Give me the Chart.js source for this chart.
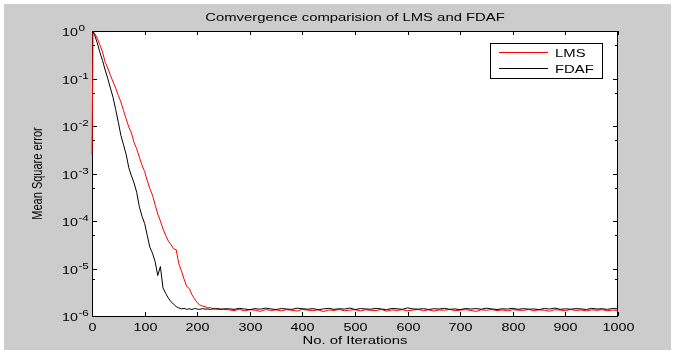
<!DOCTYPE html>
<html>
<head>
<meta charset="utf-8">
<script src="https://cdn.jsdelivr.net/npm/chart.js@4/dist/chart.umd.min.js"></script>
<style>
  body { margin: 0; background: #fff; }
  canvas { display: block; }
</style>
</head>
<body>
<canvas id="grafico" width="674" height="351"></canvas>
<script>
const $ = id => document.getElementById(id);

const iteracoes = [
    0, 2, 5, 10, 15, 20, 25, 30, 35, 40, 45, 50, 55, 60, 65, 70, 75, 80, 85, 90, 95,
    100, 105, 110, 115, 120, 125, 130, 135, 140, 145, 150, 155, 160, 165, 170, 175,
    180, 185, 190, 195, 200, 205, 210, 215, 220, 225, 230, 235, 240, 245, 250,
    260, 270, 280, 290, 300, 310, 320, 330, 340, 350, 360, 370, 380, 390, 400,
    410, 420, 430, 440, 450, 460, 470, 480, 490, 500, 510, 520, 530, 540, 550,
    560, 570, 580, 590, 600, 610, 620, 630, 640, 650, 660, 670, 680, 690, 700,
    710, 720, 730, 740, 750, 760, 770, 780, 790, 800, 810, 820, 830, 840, 850,
    860, 870, 880, 890, 900, 910, 920, 930, 940, 950, 960, 970, 980, 990, 1000
];

const mseLMS = [
    2.5e-3, 0.98, 0.89, 0.71, 0.51, 0.36, 0.22, 0.166, 0.117, 0.085, 0.063, 0.044, 0.032,
    0.021, 0.014, 9.5e-3, 7.1e-3, 4.5e-3, 3.3e-3, 2.2e-3, 1.5e-3,
    1.1e-3, 7.1e-4, 4.8e-4, 3.5e-4, 2.2e-4, 1.4e-4, 1.0e-4, 6.8e-5, 5.0e-5, 3.8e-5,
    3.2e-5, 2.6e-5, 2.5e-5, 1.26e-5, 8.9e-6, 6.0e-6, 4.2e-6, 3.8e-6, 2.8e-6, 2.3e-6,
    1.9e-6, 1.7e-6, 1.62e-6, 1.58e-6, 1.48e-6, 1.51e-6, 1.41e-6, 1.45e-6, 1.36e-6, 1.41e-6, 1.38e-6,
    1.35e-6, 1.30e-6, 1.38e-6, 1.28e-6, 1.36e-6, 1.33e-6, 1.25e-6, 1.37e-6, 1.31e-6, 1.34e-6,
    1.29e-6, 1.36e-6, 1.32e-6, 1.27e-6, 1.38e-6, 1.33e-6, 1.30e-6, 1.35e-6, 1.24e-6, 1.34e-6,
    1.31e-6, 1.37e-6, 1.29e-6, 1.33e-6, 1.36e-6, 1.28e-6, 1.35e-6, 1.32e-6, 1.30e-6, 1.38e-6,
    1.26e-6, 1.34e-6, 1.31e-6, 1.36e-6, 1.29e-6, 1.33e-6, 1.37e-6, 1.30e-6, 1.35e-6, 1.27e-6,
    1.34e-6, 1.32e-6, 1.38e-6, 1.29e-6, 1.33e-6, 1.36e-6, 1.31e-6, 1.25e-6, 1.35e-6, 1.32e-6,
    1.37e-6, 1.30e-6, 1.34e-6, 1.28e-6, 1.36e-6, 1.33e-6, 1.31e-6, 1.38e-6, 1.29e-6, 1.35e-6,
    1.32e-6, 1.26e-6, 1.36e-6, 1.33e-6, 1.30e-6, 1.37e-6, 1.31e-6, 1.34e-6, 1.28e-6, 1.35e-6,
    1.32e-6, 1.36e-6, 1.29e-6, 1.33e-6, 1.31e-6
];

const mseFDAF = [
    0.95, 0.97, 0.83, 0.56, 0.355, 0.24, 0.151, 0.10, 0.063, 0.040, 0.0224, 0.012, 6.3e-3,
    4.0e-3, 2.5e-3, 1.32e-3, 8.9e-4, 6.3e-4, 4.0e-4, 2.0e-4, 1.26e-4,
    8.9e-5, 5.0e-5, 2.8e-5, 2.1e-5, 1.4e-5, 7.1e-6, 1.1e-5, 3.9e-6, 3.0e-6, 2.4e-6,
    2.0e-6, 1.78e-6, 1.58e-6, 1.48e-6, 1.41e-6, 1.45e-6, 1.38e-6, 1.42e-6, 1.37e-6, 1.44e-6,
    1.40e-6, 1.38e-6, 1.43e-6, 1.39e-6, 1.41e-6, 1.37e-6, 1.42e-6, 1.40e-6, 1.44e-6, 1.38e-6, 1.41e-6,
    1.42e-6, 1.38e-6, 1.45e-6, 1.40e-6, 1.36e-6, 1.43e-6, 1.39e-6, 1.47e-6, 1.41e-6, 1.37e-6,
    1.44e-6, 1.40e-6, 1.38e-6, 1.46e-6, 1.42e-6, 1.39e-6, 1.43e-6, 1.36e-6, 1.41e-6, 1.45e-6,
    1.38e-6, 1.42e-6, 1.40e-6, 1.47e-6, 1.37e-6, 1.43e-6, 1.41e-6, 1.39e-6, 1.45e-6, 1.40e-6,
    1.36e-6, 1.44e-6, 1.42e-6, 1.38e-6, 1.48e-6, 1.41e-6, 1.39e-6, 1.43e-6, 1.37e-6, 1.42e-6,
    1.40e-6, 1.45e-6, 1.38e-6, 1.41e-6, 1.36e-6, 1.44e-6, 1.40e-6, 1.43e-6, 1.39e-6, 1.46e-6,
    1.41e-6, 1.37e-6, 1.42e-6, 1.40e-6, 1.45e-6, 1.38e-6, 1.43e-6, 1.39e-6, 1.41e-6, 1.36e-6,
    1.44e-6, 1.40e-6, 1.47e-6, 1.38e-6, 1.42e-6, 1.39e-6, 1.43e-6, 1.41e-6, 1.37e-6, 1.45e-6,
    1.40e-6, 1.42e-6, 1.38e-6, 1.44e-6, 1.41e-6
];

const titulo = "Comvergence comparision of LMS and FDAF";
const tituloX = "No. of Iterations";
const tituloY = "Mean Square error";
const legendas = ["LMS", "FDAF"];
const cores = ["#ff0000", "#000000"];

const FONTE = "'Liberation Sans', Arial, sans-serif";
const ESTICA = 1.35; // the original figure is stretched sideways

const pontos = valores => iteracoes.map((x, i) => ({ x, y: valores[i] }));

function texto(ctx, str, x, y, align, tamanho, sx) {
    ctx.save();
    ctx.font = `${tamanho}px ${FONTE}`;
    ctx.fillStyle = "#000";
    ctx.textBaseline = "alphabetic";
    ctx.translate(x, y);
    ctx.scale(sx, 1);
    ctx.textAlign = align;
    ctx.fillText(str, 0, 0);
    ctx.restore();
}

function linha(ctx, x1, y1, x2, y2) {
    ctx.beginPath();
    ctx.moveTo(x1, y1);
    ctx.lineTo(x2, y2);
    ctx.stroke();
}

const moldura = {
    id: "moldura",
    beforeDraw(chart) {
        const { ctx, chartArea: a, width, height } = chart;
        ctx.save();
        ctx.fillStyle = "#ffffff";
        ctx.fillRect(0, 0, width, height);
        ctx.fillStyle = "#cccccc";
        ctx.fillRect(4, 4, 667, 346);
        ctx.fillStyle = "#ffffff";
        ctx.fillRect(a.left, a.top, a.right - a.left, a.bottom - a.top);
        ctx.restore();
    },
    // axes under the data, like matlab's default layer
    beforeDatasetsDraw(chart) {
        const { ctx, chartArea: a, scales } = chart;
        const sx = scales.x, sy = scales.y;
        ctx.save();
        ctx.strokeStyle = "#000";
        ctx.lineWidth = 1;
        ctx.strokeRect(a.left + 0.5, a.top + 0.5, a.right - a.left - 1, a.bottom - a.top);

        sx.ticks.forEach(t => {
            const px = Math.round(sx.getPixelForValue(t.value)) + 0.5;
            linha(ctx, px, a.bottom, px, a.bottom - 4);
            linha(ctx, px, a.top, px, a.top + 4);
            texto(ctx, String(t.value), px, a.bottom + 15, "center", 11, 1.3);
        });

        sy.ticks.forEach(t => {
            const v = t.value;
            const e = Math.floor(Math.log10(v) + 1e-9);
            const m = v / Math.pow(10, e);
            if (Math.abs(m - Math.round(m)) > 1e-6) return;
            const maior = Math.round(m) === 1;
            const len = maior ? 5 : 3;
            const py = Math.round(sy.getPixelForValue(v)) + 0.5;
            linha(ctx, a.left, py, a.left + len, py);
            linha(ctx, a.right, py, a.right - len, py);
            if (maior) {
                ctx.font = `11px ${FONTE}`;
                const w = ctx.measureText("10").width * 1.3;
                texto(ctx, "10", 62, py + 4, "left", 11, 1.3);
                texto(ctx, String(e), 62 + w + 0.5, py - 1, "left", 9, 1.3);
            }
        });

        texto(ctx, titulo, (a.left + a.right) / 2, 21, "center", 11, ESTICA);
        texto(ctx, tituloX, (a.left + a.right) / 2, 344, "center", 11, ESTICA);

        ctx.save();
        ctx.translate(42, (a.top + a.bottom) / 2);
        ctx.scale(ESTICA, 1);
        ctx.rotate(-Math.PI / 2);
        ctx.font = `11px ${FONTE}`;
        ctx.fillStyle = "#000";
        ctx.textAlign = "center";
        ctx.fillText(tituloY, 0, 0);
        ctx.restore();
        ctx.restore();
    },
    afterDraw(chart) {
        const { ctx } = chart;
        ctx.save();
        ctx.lineWidth = 1;
        ctx.strokeStyle = "#000";
        ctx.fillStyle = "#fff";
        ctx.fillRect(490, 43, 112, 35);
        ctx.strokeRect(490.5, 43.5, 112, 35);
        legendas.forEach((nome, i) => {
            const y = 52.5 + i * 16;
            ctx.strokeStyle = cores[i];
            linha(ctx, 499, y, 548, y);
            texto(ctx, nome, 555, y + 4, "left", 11, ESTICA);
        });
        ctx.restore();
    }
};

window.onload = () => {
    new Chart($("grafico"), {
        type: "line",
        data: {
            datasets: [
                {
                    label: legendas[0],
                    data: pontos(mseLMS),
                    borderColor: cores[0],
                    borderWidth: 1,
                    pointRadius: 0,
                    tension: 0,
                    clip: false,
                    order: 1
                },
                {
                    label: legendas[1],
                    data: pontos(mseFDAF),
                    borderColor: cores[1],
                    borderWidth: 1,
                    pointRadius: 0,
                    tension: 0,
                    clip: false,
                    order: 0
                }
            ]
        },
        options: {
            responsive: false,
            devicePixelRatio: 1,
            animation: false,
            layout: { padding: { left: 92, right: 56, top: 31, bottom: 35 } },
            plugins: {
                legend: { display: false },
                tooltip: { enabled: false }
            },
            scales: {
                x: { type: "linear", min: 0, max: 1000, display: false, ticks: { stepSize: 100 } },
                y: { type: "logarithmic", min: 1e-6, max: 1, display: false }
            }
        },
        plugins: [moldura]
    });
};
</script>
</body>
</html>
